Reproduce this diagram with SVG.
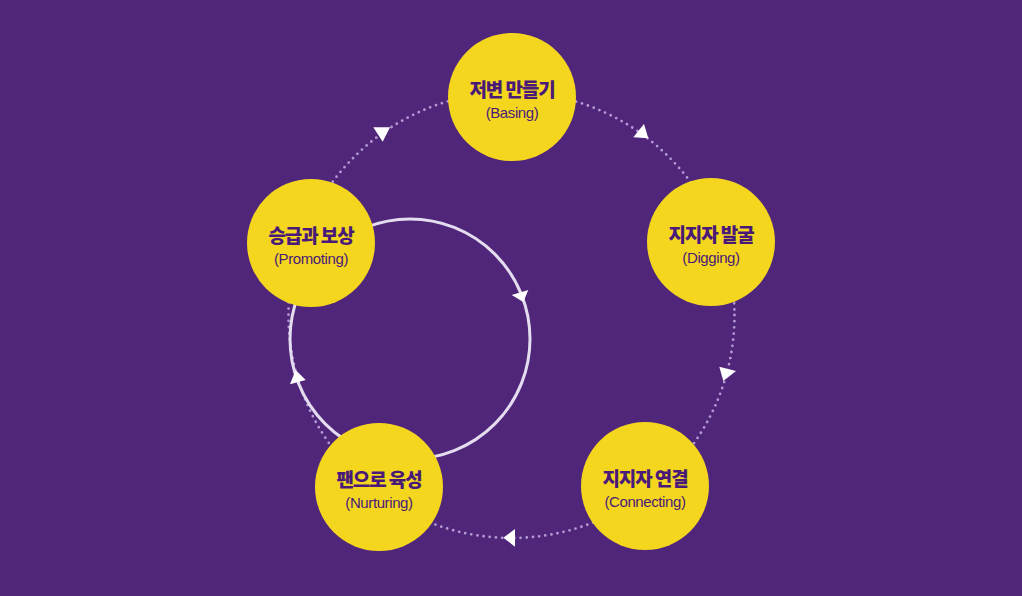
<svg xmlns="http://www.w3.org/2000/svg" width="1022" height="596" viewBox="0 0 1022 596">
  <defs>
    <style>
      .bg { fill: #50267b; }
      .node { fill: #f4d61f; }
      .ko { font-family: "Noto Sans CJK KR", "Noto Sans", sans-serif; font-weight: 900; font-size: 19px; fill: #4a1a78; text-anchor: middle; letter-spacing: -1.1px; }
      .en { font-family: "Liberation Sans", Arial, sans-serif; font-size: 15px; fill: #4a1a78; text-anchor: middle; letter-spacing: -0.4px; }
      .dots { fill: none; stroke: #b39ad3; stroke-width: 2.8; stroke-linecap: round; stroke-dasharray: 0 6.2; }
      .inner { fill: none; stroke: #e4dcef; stroke-width: 3; }
      .arrow { fill: #ffffff; }
    </style>
  </defs>
  <rect class="bg" x="0" y="0" width="1022" height="596"/>

  <g id="connectors">
    <circle class="dots" cx="511.5" cy="315" r="223"/>
    <circle class="inner" cx="410" cy="339" r="120"/>
    <polygon class="arrow" points="633.3,137.3 648.3,138.3 644,124"/>
    <polygon class="arrow" points="719.3,366.7 736,371 723.3,381"/>
    <polygon class="arrow" points="503.3,537.7 515,529 515,546.7"/>
    <polygon class="arrow" points="295.7,370 290,384.3 305.7,380"/>
    <polygon class="arrow" points="373.3,127.3 390,127.3 382.7,141.7"/>
    <polygon class="arrow" points="511.7,295 528.3,290 523.3,302"/>
  </g>

  <g id="node-basing">
    <circle class="node" cx="512" cy="97" r="64"/>
    <text class="ko" x="512" y="97">저변 만들기</text>
    <text class="en" x="512" y="118">(Basing)</text>
  </g>
  <g id="node-digging">
    <circle class="node" cx="711" cy="242" r="64"/>
    <text class="ko" x="711" y="242">지지자 발굴</text>
    <text class="en" x="711" y="263">(Digging)</text>
  </g>
  <g id="node-connecting">
    <circle class="node" cx="645" cy="486" r="64"/>
    <text class="ko" x="645" y="486">지지자 연결</text>
    <text class="en" x="645" y="507">(Connecting)</text>
  </g>
  <g id="node-nurturing">
    <circle class="node" cx="379" cy="487" r="64"/>
    <text class="ko" x="379" y="487">팬으로 육성</text>
    <text class="en" x="379" y="508">(Nurturing)</text>
  </g>
  <g id="node-promoting">
    <circle class="node" cx="311" cy="243" r="64"/>
    <text class="ko" x="311" y="243">승급과 보상</text>
    <text class="en" x="311" y="264">(Promoting)</text>
  </g>
</svg>
